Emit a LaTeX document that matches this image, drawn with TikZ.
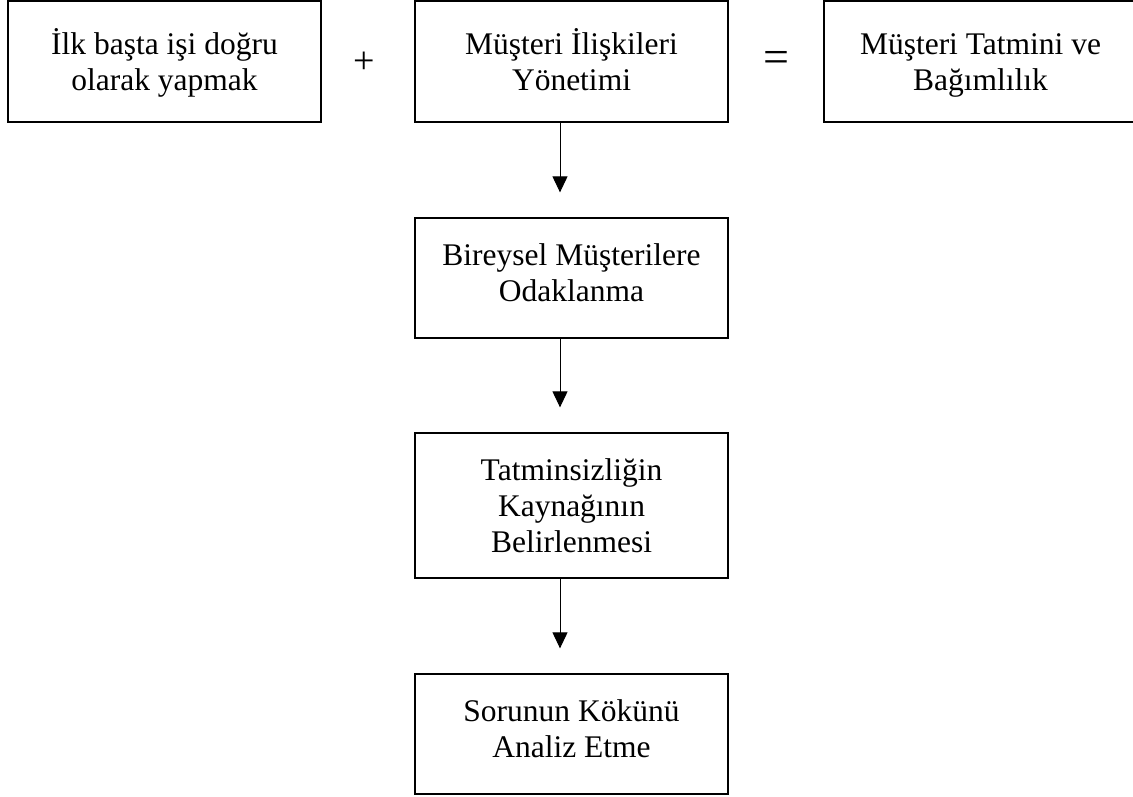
\documentclass[tikz,border=0pt]{standalone}
\usepackage{fontspec}
\setmainfont{Liberation Serif}
\usetikzlibrary{arrows.meta}
\tikzset{
  box/.style={draw=black, line width=1.3pt, minimum width=313pt, inner sep=0pt,
    align=center, font=\fontsize{31.5}{36}\selectfont, text=black},
  flow/.style={draw=black, line width=1pt, -{Triangle[length=16pt,width=15pt]}},
  sign/.style={inner sep=0pt, text=black}
}
\begin{document}
\begin{tikzpicture}[x=1pt,y=-1pt]
\clip (0,0) rectangle (1133,796);
\fill[white] (0,0) rectangle (1133,796);
\node[box, minimum height=121pt, text height=89pt, text depth=32pt] (b1) at (164.5,61.5) {İlk başta işi doğru\\olarak yapmak};
\node[box, minimum height=121pt, text height=89pt, text depth=32pt] (b2) at (571.5,61.5) {Müşteri İlişkileri\\Yönetimi};
\node[box, minimum height=121pt, text height=89pt, text depth=32pt] (b3) at (980.5,61.5) {Müşteri Tatmini ve\\Bağımlılık};
\node[box, minimum height=120pt, text height=83pt, text depth=37pt] (b4) at (571.5,278) {Bireysel Müşterilere\\Odaklanma};
\node[box, minimum height=145pt, text height=119pt, text depth=26pt] (b5) at (571.5,505.5) {Tatminsizliğin\\Kaynağının\\Belirlenmesi};
\node[box, minimum height=120pt, text height=83pt, text depth=37pt] (b6) at (571.5,734) {Sorunun Kökünü\\Analiz Etme};
\node[sign, font=\fontsize{38}{38}\selectfont] (plus) at (364,63) {+};
\node[sign, font=\fontsize{46}{46}\selectfont] (eq) at (776,62) {=};
\draw[flow] ([xshift=-11.5pt]b2.south) -- ([xshift=-11.5pt,yshift=25pt]b4.north);
\draw[flow] ([xshift=-11.5pt]b4.south) -- ([xshift=-11.5pt,yshift=25pt]b5.north);
\draw[flow] ([xshift=-11.5pt]b5.south) -- ([xshift=-11.5pt,yshift=25pt]b6.north);
\end{tikzpicture}
\end{document}
